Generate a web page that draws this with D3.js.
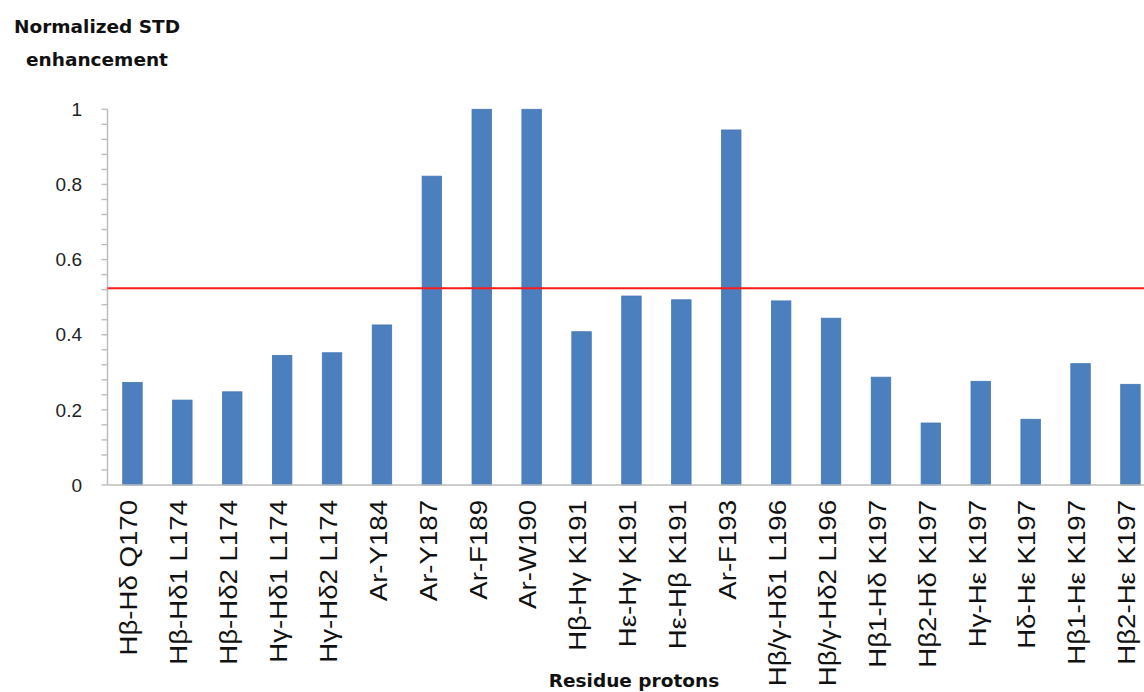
<!DOCTYPE html>
<html>
<head>
<meta charset="utf-8">
<script src="https://cdn.jsdelivr.net/npm/d3@7"></script>
<style>
  html, body { margin: 0; padding: 0; background: #fff; }
  svg { display: block; }
</style>
</head>
<body>
<svg id="chart" width="1144" height="692"></svg>
<script>
const categories = [
  "Hβ-Hδ Q170", "Hβ-Hδ1 L174", "Hβ-Hδ2 L174", "Hγ-Hδ1 L174", "Hγ-Hδ2 L174",
  "Ar-Y184", "Ar-Y187", "Ar-F189", "Ar-W190", "Hβ-Hγ K191", "Hε-Hγ K191",
  "Hε-Hβ K191", "Ar-F193", "Hβ/γ-Hδ1 L196", "Hβ/γ-Hδ2 L196", "Hβ1-Hδ K197",
  "Hβ2-Hδ K197", "Hγ-Hε K197", "Hδ-Hε K197", "Hβ1-Hε K197", "Hβ2-Hε K197"
];
const values = [
  0.273, 0.226, 0.248, 0.345, 0.352,
  0.426, 0.822, 1.0, 1.0, 0.408, 0.503,
  0.493, 0.945, 0.490, 0.444, 0.287,
  0.165, 0.276, 0.175, 0.323, 0.268
];
const threshold = [0.524];
const yTickValues = [0, 0.2, 0.4, 0.6, 0.8, 1];
const yTickLabels = ["0", "0.2", "0.4", "0.6", "0.8", "1"];
const yMinorTicks = d3.range(0, 26).map(i => +(i * 0.04).toFixed(2));
const yTitleLines = ["Normalized STD", "enhancement"];
const xTitle = "Residue protons";

(function draw() {
const svg = d3.select("#chart");
const plotLeft = 107.5, step = 49.9;
const plotTop = 109.3, plotBottom = 485;

const x = d3.scaleBand()
  .domain(categories)
  .range([plotLeft, plotLeft + step * categories.length])
  .paddingInner(0.61)
  .paddingOuter(0.305);

const y = d3.scaleLinear().domain([0, 1]).range([plotBottom, plotTop]);

const axisColor = "#bdbdbd";

// bars
svg.append("g").selectAll("rect")
  .data(values)
  .join("rect")
  .attr("x", (d, i) => x(categories[i]))
  .attr("width", x.bandwidth())
  .attr("y", d => y(d))
  .attr("height", d => y(0) - y(d))
  .attr("fill", "#4b7fbd")
  .attr("stroke", "#4677b4")
  .attr("stroke-width", 0.8);

// y axis: line + minor ticks
const yAxis = svg.append("g");
yAxis.append("line")
  .attr("x1", plotLeft).attr("x2", plotLeft)
  .attr("y1", y(1)).attr("y2", y(0))
  .attr("stroke", axisColor).attr("stroke-width", 1.5);
yAxis.selectAll("line.tick")
  .data(yMinorTicks)
  .join("line")
  .attr("class", "tick")
  .attr("x1", plotLeft - 6).attr("x2", plotLeft)
  .attr("y1", d => y(d)).attr("y2", d => y(d))
  .attr("stroke", axisColor).attr("stroke-width", 1.4);
yAxis.selectAll("text")
  .data(yTickValues)
  .join("text")
  .attr("x", 82)
  .attr("y", d => y(d))
  .attr("dy", "0.35em")
  .attr("text-anchor", "end")
  .attr("font-family", "Liberation Sans, Arial, sans-serif")
  .attr("font-size", 19)
  .attr("fill", "#222")
  .text((d, i) => yTickLabels[i]);

// x axis line
svg.append("line")
  .attr("x1", plotLeft).attr("x2", 1144)
  .attr("y1", y(0)).attr("y2", y(0))
  .attr("stroke", axisColor).attr("stroke-width", 1.5);

// threshold line
svg.append("g").selectAll("line")
  .data(threshold)
  .join("line")
  .attr("x1", plotLeft).attr("x2", 1144)
  .attr("y1", d => y(d)).attr("y2", d => y(d))
  .attr("stroke", "#ff1a1a").attr("stroke-width", 2);

// x labels
svg.append("g").selectAll("text")
  .data(categories)
  .join("text")
  .attr("transform", d => `translate(${x(d) + x.bandwidth() / 2},500) rotate(-90) scale(1.15,1)`)
  .attr("dy", "0.2em")
  .attr("text-anchor", "end")
  .attr("font-family", "Liberation Sans, Arial, sans-serif")
  .attr("font-size", 24)
  .attr("fill", "#111")
  .text(d => d);

// y title
svg.append("g").selectAll("text")
  .data(yTitleLines)
  .join("text")
  .attr("x", 97)
  .attr("y", (d, i) => 33 + i * 33)
  .attr("text-anchor", "middle")
  .attr("font-family", "DejaVu Sans, sans-serif")
  .attr("font-weight", "bold")
  .attr("font-size", 18.5)
  .attr("fill", "#111")
  .text(d => d);

// x title
svg.append("text")
  .attr("x", 634)
  .attr("y", 687)
  .attr("text-anchor", "middle")
  .attr("font-family", "DejaVu Sans, sans-serif")
  .attr("font-weight", "bold")
  .attr("font-size", 18.5)
  .attr("fill", "#111")
  .text(xTitle);
})();
</script>
</body>
</html>
